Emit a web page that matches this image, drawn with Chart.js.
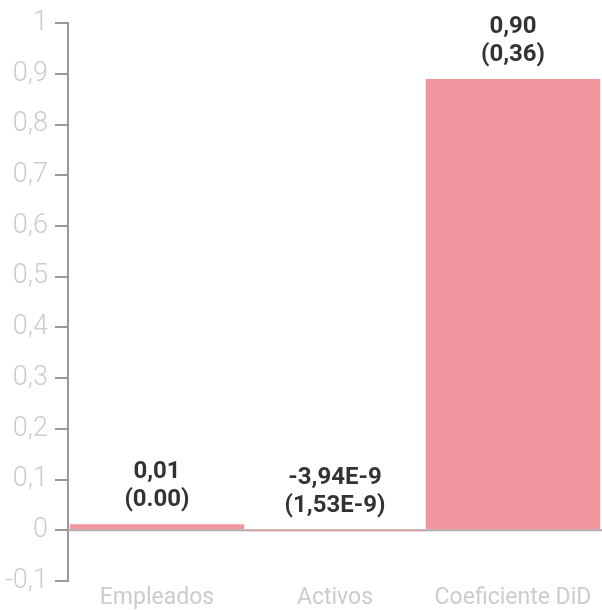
<!DOCTYPE html>
<html>
<head>
<meta charset="utf-8">
<script src="https://cdn.jsdelivr.net/npm/chart.js@4"></script>
<style>
  html, body { margin: 0; padding: 0; background: #fff; }
  #wrap { width: 602px; height: 610px; }
</style>
</head>
<body>
<div id="wrap"><canvas id="chart"></canvas></div>
<script>
// Data
let categories = ['Empleados', 'Activos', 'Coeficiente DiD'];
let values = [0.012, -3.94e-9, 0.89];
let valueLabels = ['0,01', '-3,94E-9', '0,90'];
let errorLabels = ['(0.00)', '(1,53E-9)', '(0,36)'];

// Labels above each bar
let barLabels = {
  id: 'barLabels',
  afterDatasetsDraw(chart) {
    let ctx = chart.ctx;
    let meta = chart.getDatasetMeta(0);
    ctx.save();
    ctx.font = 'bold 24px Roboto';
    ctx.fillStyle = '#333333';
    ctx.textAlign = 'center';
    ctx.textBaseline = 'middle';
    meta.data.forEach((bar, i) => {
      let top = Math.min(bar.y, bar.base);
      ctx.fillText(valueLabels[i], bar.x, top - 52);
      ctx.fillText(errorLabels[i], bar.x, top - 24);
    });
    ctx.restore();
  }
};

// Horizontal line at zero
let zeroLine = {
  id: 'zeroLine',
  beforeDatasetsDraw(chart) {
    let ctx = chart.ctx;
    let y = chart.scales.y.getPixelForValue(0);
    ctx.save();
    ctx.strokeStyle = '#aaaaaa';
    ctx.lineWidth = 2;
    ctx.beginPath();
    ctx.moveTo(chart.chartArea.left, y);
    ctx.lineTo(chart.chartArea.right, y);
    ctx.stroke();
    ctx.restore();
  }
};

let config = {
  type: 'bar',
  data: {
    labels: categories,
    datasets: [{
      data: values,
      backgroundColor: '#f0969e',
      barPercentage: 0.98,
      categoryPercentage: 1
    }]
  },
  options: {
    responsive: true,
    maintainAspectRatio: false,
    animation: false,
    layout: { padding: { top: 1, right: 0, bottom: 0, left: 0 } },
    plugins: {
      legend: { display: false },
      tooltip: { enabled: false }
    },
    scales: {
      x: {
        afterFit: s => { s.height = 29; },
        grid: { display: false, drawTicks: false },
        border: { display: false },
        ticks: {
          color: '#cccccc',
          padding: 6,
          font: { family: 'Roboto', size: 23, lineHeight: 1 }
        }
      },
      y: {
        min: -0.1,
        max: 1,
        afterFit: s => { s.width = 68; },
        grid: {
          drawOnChartArea: false,
          tickLength: 13,
          color: '#999999',
          lineWidth: 2
        },
        border: { color: '#999999', width: 2 },
        ticks: {
          stepSize: 0.1,
          color: '#cccccc',
          padding: 7,
          font: { family: 'Roboto', size: 27, weight: 300 },
          callback: v => String(Math.round(v * 10) / 10).replace('.', ',')
        }
      }
    }
  },
  plugins: [zeroLine, barLabels]
};

new Chart(document.getElementById('chart'), config);
</script>
</body>
</html>
